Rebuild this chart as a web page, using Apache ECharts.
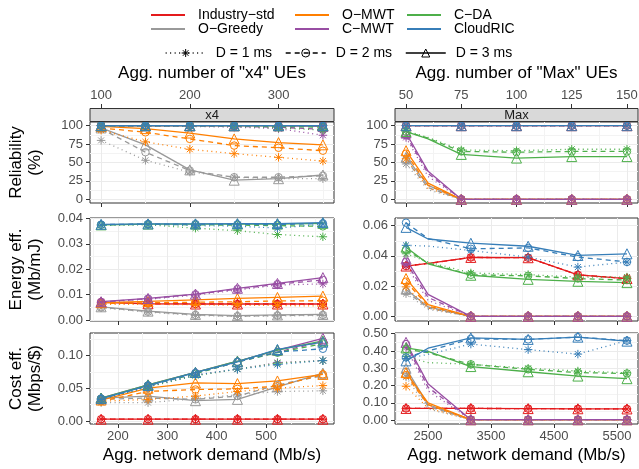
<!DOCTYPE html>
<html>
<head>
  <meta charset="utf-8">
  <style>
    html, body { margin: 0; background: #fff; }
    #container { width: 639px; height: 469px; }
  </style>
</head>
<body>
  <div id="container"></div>
  <script src="https://cdn.jsdelivr.net/npm/echarts@6/dist/echarts.min.js"></script>
  <script>
// ---- data ----
const methods = ['Industry−std', 'O−Greedy', 'O−MWT', 'C−MWT', 'C−DA', 'CloudRIC'];
const delays = ['D = 1 ms', 'D = 2 ms', 'D = 3 ms'];

const uesX4 = [100, 150, 200, 250, 300, 350];
const uesMax = [50, 60, 75, 100, 125, 150];
const demandX4 = [166, 261, 357, 442, 523, 615];
const demandMax = [2150, 2500, 3180, 4090, 4880, 5660];

const uesX4Ticks = [100, 200, 300];
const uesMaxTicks = [50, 75, 100, 125, 150];
const demandX4Ticks = [200, 300, 400, 500];
const demandMaxTicks = [2500, 3500, 4500, 5500];
const reliabilityTicks = [0, 25, 50, 75, 100];
const energyX4Ticks = [0, 0.01, 0.02, 0.03, 0.04];
const energyMaxTicks = [0, 0.02, 0.04, 0.06];
const costX4Ticks = [0, 0.05, 0.10];
const costMaxTicks = [0, 0.1, 0.2, 0.3, 0.4, 0.5];

// [method][delay D=1,2,3][point]
const reliabilityX4 = [
  [[100, 100, 100, 100, 100, 100], [100, 100, 100, 100, 100, 100], [100, 100, 100, 100, 100, 100]],
  [[80, 53, 37, 30, 28, 28], [96, 64, 39, 30, 30, 32], [97, 74, 40, 26, 28, 33]],
  [[94, 78, 68, 62, 57, 52], [97, 91, 82, 73, 70, 66], [99, 96, 90, 82, 77, 74]],
  [[100, 100, 99, 98, 96, 87], [100, 100, 100, 99, 98, 95], [100, 100, 100, 100, 100, 99]],
  [[100, 100, 100, 99, 97, 94], [100, 100, 100, 100, 99, 98], [100, 100, 100, 100, 100, 100]],
  [[100, 100, 100, 100, 100, 100], [100, 100, 100, 100, 100, 100], [100, 100, 100, 100, 100, 100]]
];
const reliabilityMax = [
  [[100, 100, 100, 100, 100, 100], [100, 100, 100, 100, 100, 100], [100, 100, 100, 100, 100, 100]],
  [[48, 13, 0, 0, 0, 0], [53, 16, 0, 0, 0, 0], [57, 19, 0, 0, 0, 0]],
  [[55, 15, 0, 0, 0, 0], [62, 19, 0, 0, 0, 0], [66, 22, 0, 0, 0, 0]],
  [[84, 31, 0, 0, 0, 0], [87, 35, 0, 0, 0, 0], [90, 38, 0, 0, 0, 0]],
  [[93, 84, 67, 66, 68, 68], [92, 83, 65, 64, 65, 65], [92, 82, 61, 56, 58, 58]],
  [[100, 100, 100, 100, 100, 100], [100, 100, 100, 100, 100, 100], [100, 100, 100, 100, 100, 100]]
];
const energyX4 = [
  [[0.0070, 0.0064, 0.0063, 0.0063, 0.0063, 0.0063], [0.0070, 0.0064, 0.0063, 0.0063, 0.0063, 0.0063], [0.0070, 0.0064, 0.0063, 0.0063, 0.0063, 0.0063]],
  [[0.0048, 0.0031, 0.0018, 0.0014, 0.0016, 0.0018], [0.0050, 0.0033, 0.0020, 0.0015, 0.0018, 0.0020], [0.0052, 0.0035, 0.0022, 0.0017, 0.0020, 0.0022]],
  [[0.0062, 0.0062, 0.0060, 0.0058, 0.0057, 0.0055], [0.0065, 0.0068, 0.0070, 0.0072, 0.0075, 0.0076], [0.0068, 0.0073, 0.0079, 0.0085, 0.0089, 0.0094]],
  [[0.0070, 0.0082, 0.0098, 0.0118, 0.0138, 0.0142], [0.0071, 0.0084, 0.0101, 0.0122, 0.0141, 0.0158], [0.0072, 0.0085, 0.0102, 0.0125, 0.0144, 0.0167]],
  [[0.0373, 0.0375, 0.0362, 0.0352, 0.0337, 0.0328], [0.0375, 0.0377, 0.0375, 0.0374, 0.0372, 0.0369], [0.0375, 0.0378, 0.0378, 0.0378, 0.0378, 0.0381]],
  [[0.0374, 0.0377, 0.0372, 0.0370, 0.0362, 0.0378], [0.0376, 0.0378, 0.0378, 0.0377, 0.0376, 0.0381], [0.0377, 0.0379, 0.0379, 0.0380, 0.0380, 0.0384]]
];
const energyMax = [
  [[0.0333, 0.0350, 0.0390, 0.0388, 0.0275, 0.0250], [0.0333, 0.0350, 0.0390, 0.0388, 0.0275, 0.0250], [0.0333, 0.0350, 0.0390, 0.0388, 0.0275, 0.0250]],
  [[0.0150, 0.0046, 0, 0, 0, 0], [0.0165, 0.0055, 0, 0, 0, 0], [0.0180, 0.0062, 0, 0, 0, 0]],
  [[0.0195, 0.0055, 0, 0, 0, 0], [0.0230, 0.0068, 0, 0, 0, 0], [0.0250, 0.0078, 0, 0, 0, 0]],
  [[0.0340, 0.0105, 0, 0, 0, 0], [0.0360, 0.0125, 0, 0, 0, 0], [0.0380, 0.0145, 0, 0, 0, 0]],
  [[0.0414, 0.0360, 0.0287, 0.0276, 0.0260, 0.0260], [0.0440, 0.0352, 0.0275, 0.0268, 0.0250, 0.0240], [0.0458, 0.0348, 0.0272, 0.0245, 0.0232, 0.0223]],
  [[0.0470, 0.0465, 0.0436, 0.0392, 0.0326, 0.0359], [0.0620, 0.0515, 0.0447, 0.0453, 0.0392, 0.0360], [0.0589, 0.0512, 0.0484, 0.0464, 0.0403, 0.0414]]
];
const costX4 = [
  [[0.0028, 0.0028, 0.0028, 0.0028, 0.0028, 0.0028], [0.0028, 0.0028, 0.0028, 0.0028, 0.0028, 0.0028], [0.0028, 0.0028, 0.0028, 0.0028, 0.0028, 0.0028]],
  [[0.028, 0.028, 0.034, 0.040, 0.045, 0.046], [0.033, 0.035, 0.033, 0.038, 0.055, 0.069], [0.035, 0.038, 0.031, 0.033, 0.052, 0.073]],
  [[0.030, 0.033, 0.038, 0.045, 0.050, 0.054], [0.030, 0.045, 0.048, 0.049, 0.053, 0.071], [0.032, 0.050, 0.058, 0.057, 0.061, 0.071]],
  [[0.033, 0.052, 0.070, 0.079, 0.089, 0.092], [0.034, 0.054, 0.073, 0.090, 0.105, 0.121], [0.035, 0.055, 0.074, 0.091, 0.108, 0.126]],
  [[0.033, 0.052, 0.069, 0.079, 0.088, 0.092], [0.034, 0.054, 0.072, 0.090, 0.104, 0.118], [0.035, 0.055, 0.074, 0.091, 0.108, 0.122]],
  [[0.033, 0.053, 0.070, 0.079, 0.086, 0.092], [0.034, 0.054, 0.073, 0.090, 0.105, 0.110], [0.034, 0.054, 0.074, 0.090, 0.109, 0.120]]
];
const costMax = [
  [[0.068, 0.068, 0.068, 0.067, 0.066, 0.065], [0.068, 0.068, 0.068, 0.067, 0.066, 0.065], [0.068, 0.068, 0.068, 0.067, 0.066, 0.065]],
  [[0.250, 0.065, 0.003, 0.003, 0.003, 0.003], [0.280, 0.080, 0.003, 0.003, 0.003, 0.003], [0.300, 0.090, 0.003, 0.003, 0.003, 0.003]],
  [[0.196, 0.070, 0.003, 0.003, 0.003, 0.003], [0.260, 0.090, 0.003, 0.003, 0.003, 0.003], [0.275, 0.100, 0.003, 0.003, 0.003, 0.003]],
  [[0.420, 0.170, 0.003, 0.003, 0.003, 0.003], [0.440, 0.190, 0.003, 0.003, 0.003, 0.003], [0.450, 0.210, 0.003, 0.003, 0.003, 0.003]],
  [[0.369, 0.333, 0.323, 0.300, 0.284, 0.274], [0.410, 0.390, 0.323, 0.294, 0.275, 0.270], [0.418, 0.398, 0.310, 0.280, 0.255, 0.240]],
  [[0.357, 0.380, 0.440, 0.408, 0.382, 0.460], [0.363, 0.400, 0.470, 0.467, 0.480, 0.460], [0.343, 0.416, 0.476, 0.467, 0.480, 0.457]]
];

// ---- styling ----
var FONT = '"Liberation Sans", Arial, Helvetica, sans-serif';
var colors = ['#E41A1C', '#999999', '#FF7F00', '#984EA3', '#4DAF4A', '#377EB8'];
var symbols = ['path://M0,5L10,5M5,0L5,10M1.5,1.5L8.5,8.5M1.5,8.5L8.5,1.5', 'circle', 'triangle'];
var symbolSizes = [8.5, 7.5, 10];
var dashes = [[1, 3.5], [5, 4], 'solid'];
var noFill = 'rgba(0,0,0,0)';

var cols = [{ left: 90, width: 244 }, { left: 395, width: 243 }];
var rows = [{ top: 122, height: 81 }, { top: 218, height: 103 }, { top: 333, height: 91 }];
var yNames = ['Reliability\n(%)', 'Energy eff.\n(Mb/mJ)', 'Cost eff.\n(Mbps/$)'];
var f2 = function (v) { return v.toFixed(2); };
var plain = function (v) { return String(v); };

var panels = [
  { col: 0, row: 0, x: uesX4, y: reliabilityX4, xr: [87.5, 362.5], yr: [-5, 105], xt: uesX4Ticks, xm: [150, 250, 350], yt: reliabilityTicks, ym: [12.5, 37.5, 62.5, 87.5], fmt: plain },
  { col: 1, row: 0, x: uesMax, y: reliabilityMax, xr: [45, 155], yr: [-5, 105], xt: uesMaxTicks, xm: [62.5, 87.5, 112.5, 137.5], yt: reliabilityTicks, ym: [12.5, 37.5, 62.5, 87.5], fmt: plain },
  { col: 0, row: 1, x: demandX4, y: energyX4, xr: [143.5, 637.5], yr: [-0.0004, 0.0402], xt: demandX4Ticks, xm: [150, 250, 350, 450, 550, 600], yt: energyX4Ticks, ym: [0.005, 0.015, 0.025, 0.035], fmt: f2 },
  { col: 1, row: 1, x: demandMax, y: energyMax, xr: [1975, 5835], yr: [-0.0031, 0.0651], xt: demandMaxTicks, xm: [2000, 3000, 4000, 5000], yt: energyMaxTicks, ym: [0.01, 0.03, 0.05], fmt: f2 },
  { col: 0, row: 2, x: demandX4, y: costX4, xr: [143.5, 637.5], yr: [-0.0045, 0.134], xt: demandX4Ticks, xm: [150, 250, 350, 450, 550, 600], yt: costX4Ticks, ym: [0.025, 0.075, 0.125], fmt: f2 },
  { col: 1, row: 2, x: demandMax, y: costMax, xr: [1975, 5835], yr: [-0.022, 0.504], xt: demandMaxTicks, xm: [2000, 3000, 4000, 5000], yt: costMaxTicks, ym: [0.05, 0.15, 0.25, 0.35, 0.45], fmt: f2 }
];

var tickText = { color: '#4D4D4D', fontSize: 13, fontFamily: FONT };
var titleText = { color: '#000', fontSize: 17, fontFamily: FONT, lineHeight: 19 };

var grid = [], xAxis = [], yAxis = [], minorX = [], minorY = [], series = [];

panels.forEach(function (p, i) {
  grid.push({
    left: cols[p.col].left, width: cols[p.col].width,
    top: rows[p.row].top, height: rows[p.row].height,
    show: true, borderColor: '#333', borderWidth: 1,
    containLabel: false, outerBoundsMode: 'none'
  });
  xAxis.push({
    type: 'value', gridIndex: i, position: 'bottom', min: p.xr[0], max: p.xr[1],
    axisLine: { show: false, onZero: false },
    axisTick: { show: true, customValues: p.xt, length: 4, lineStyle: { color: '#333' } },
    axisLabel: { show: p.row === 2, customValues: p.xt, formatter: plain, margin: 6, ...tickText },
    splitLine: { show: true, lineStyle: { color: '#EBEBEB', width: 1 } },
    name: p.row === 2 ? 'Agg. network demand (Mb/s)' : '',
    nameLocation: 'middle', nameGap: 22, nameTextStyle: titleText
  });
  yAxis.push({
    type: 'value', gridIndex: i, min: p.yr[0], max: p.yr[1],
    axisLine: { show: false, onZero: false },
    axisTick: { show: true, customValues: p.yt, length: 4, lineStyle: { color: '#333' } },
    axisLabel: { show: true, customValues: p.yt, formatter: p.fmt, margin: 7, ...tickText },
    splitLine: { show: true, lineStyle: { color: '#EBEBEB', width: 1 } },
    name: p.col === 0 ? yNames[p.row] : '',
    nameLocation: 'middle', nameRotate: 90, nameGap: 45, nameTextStyle: titleText
  });
  minorX.push({
    type: 'value', gridIndex: i, position: 'bottom', min: p.xr[0], max: p.xr[1],
    axisLine: { show: false, onZero: false },
    axisTick: { show: false, customValues: p.xm },
    axisLabel: { show: false, customValues: p.xm },
    splitLine: { show: true, lineStyle: { color: '#F3F3F3', width: 1 } }
  });
  minorY.push({
    type: 'value', gridIndex: i, position: 'left', min: p.yr[0], max: p.yr[1],
    axisLine: { show: false, onZero: false },
    axisTick: { show: false, customValues: p.ym },
    axisLabel: { show: false, customValues: p.ym },
    splitLine: { show: true, lineStyle: { color: '#F3F3F3', width: 1 } }
  });

  methods.forEach(function (m, mi) {
    delays.forEach(function (d, di) {
      series.push({
        type: 'line', name: m + ' | ' + d + ' | ' + i,
        xAxisIndex: i, yAxisIndex: i,
        data: p.x.map(function (xv, k) {
          // the second "Max" point is drawn in the lines only, without a marker
          if (p.col === 1 && k === 1) return { value: [xv, p.y[mi][di][k]], symbol: 'none' };
          return [xv, p.y[mi][di][k]];
        }),
        symbol: symbols[di], symbolSize: symbolSizes[di], showAllSymbol: true,
        itemStyle: { color: noFill, borderColor: colors[mi], borderWidth: 1 },
        lineStyle: { color: colors[mi], width: 1.3, type: dashes[di] },
        emphasis: { disabled: true }, silent: true
      });
    });
  });
});

// top (secondary) axes for the reliability row
var topAxes = [0, 1].map(function (i) {
  var p = panels[i];
  return {
    type: 'value', gridIndex: i, position: 'top', offset: 14, min: p.xr[0], max: p.xr[1],
    axisLine: { show: false, onZero: false },
    axisTick: { show: true, customValues: p.xt, length: 4, lineStyle: { color: '#333' } },
    axisLabel: { show: true, customValues: p.xt, formatter: plain, margin: 6, ...tickText },
    splitLine: { show: false },
    name: i === 0 ? 'Agg. number of "x4" UEs' : 'Agg. number of "Max" UEs',
    nameLocation: 'middle', nameGap: 25, nameTextStyle: titleText
  };
});

// legend-only series
methods.forEach(function (m, mi) {
  series.push({ type: 'line', name: m, data: [], xAxisIndex: 0, yAxisIndex: 0,
    itemStyle: { color: colors[mi] }, lineStyle: { color: colors[mi] } });
});
delays.forEach(function (d, di) {
  series.push({ type: 'line', name: d, data: [], xAxisIndex: 0, yAxisIndex: 0,
    symbol: symbols[di], symbolSize: symbolSizes[di],
    itemStyle: { color: noFill, borderColor: '#000', borderWidth: 1 },
    lineStyle: { color: '#000', width: 1.3, type: dashes[di] } });
});

function methodLegend(names, left) {
  return {
    data: names.map(function (n) { return { name: n, itemStyle: { color: colors[methods.indexOf(n)] } }; }),
    orient: 'vertical', left: left, top: 3, icon: 'rect',
    itemWidth: 34, itemHeight: 2, itemGap: 0, selectedMode: false,
    textStyle: { color: '#000', fontSize: 14, fontFamily: FONT, lineHeight: 13, padding: [0, 0, 0, 8] }
  };
}

var option = {
  backgroundColor: '#fff',
  animation: false,
  grid: grid,
  xAxis: xAxis.concat(minorX, topAxes),
  yAxis: yAxis.concat(minorY),
  legend: [
    methodLegend(['Industry−std', 'O−Greedy'], 146),
    methodLegend(['O−MWT', 'C−MWT'], 290),
    methodLegend(['C−DA', 'CloudRIC'], 402),
    {
      data: delays.map(function (d, di) {
        return { name: d, itemStyle: { color: noFill, borderColor: '#000', borderWidth: 1 },
          lineStyle: { color: '#000', width: 1.3, type: dashes[di] } };
      }),
      orient: 'horizontal', left: 160, top: 41,
      itemWidth: 40, itemHeight: 10, itemGap: 13, selectedMode: false,
      textStyle: { color: '#000', fontSize: 14, fontFamily: FONT, padding: [0, 0, 0, 5] }
    }
  ],
  graphic: [
    { type: 'rect', shape: { x: 90, y: 108.5, width: 244, height: 13 }, style: { fill: '#D9D9D9', stroke: '#333', lineWidth: 1 }, z: 10 },
    { type: 'text', x: 212, y: 115.5, style: { text: 'x4', fill: '#1A1A1A', fontSize: 13, fontFamily: FONT, align: 'center', verticalAlign: 'middle' }, z: 11 },
    { type: 'rect', shape: { x: 395, y: 108.5, width: 243, height: 13 }, style: { fill: '#D9D9D9', stroke: '#333', lineWidth: 1 }, z: 10 },
    { type: 'text', x: 516.5, y: 115.5, style: { text: 'Max', fill: '#1A1A1A', fontSize: 13, fontFamily: FONT, align: 'center', verticalAlign: 'middle' }, z: 11 }
  ],
  series: series
};

var myChart = echarts.init(document.getElementById('container'));
myChart.setOption(option);
window.addEventListener('resize', myChart.resize);
  </script>
</body>
</html>
